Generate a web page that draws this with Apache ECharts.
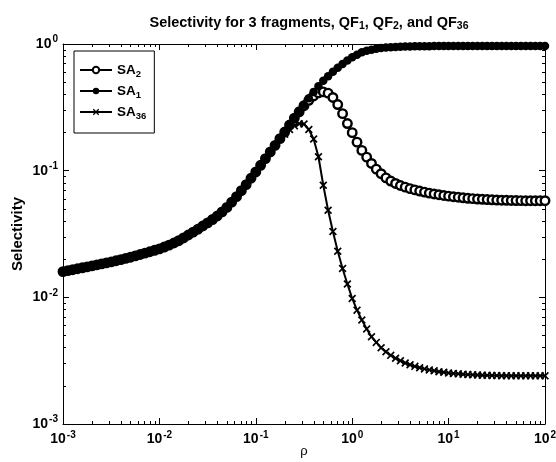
<!DOCTYPE html>
<html><head><meta charset="utf-8">
<script src="https://cdn.jsdelivr.net/npm/echarts@6/dist/echarts.min.js"></script>
<style>html,body{margin:0;padding:0;background:#fff}#c{width:556px;height:462px}</style>
</head><body><div id="c"></div>
<script>
// ---- data ----
const rho = [
0.001,0.001122,0.001259,0.001413,0.001585,0.001778,0.001995,0.002239,0.002512,0.002818,
0.003162,0.003548,0.003981,0.004467,0.005012,0.005623,0.00631,0.007079,0.007943,0.008913,
0.01,0.01122,0.01259,0.01413,0.01585,0.01778,0.01995,0.02239,0.02512,0.02818,
0.03162,0.03548,0.03981,0.04467,0.05012,0.05623,0.0631,0.07079,0.07943,0.08913,
0.1,0.1122,0.1259,0.1413,0.1585,0.1778,0.1995,0.2239,0.2512,0.2818,
0.3162,0.3548,0.3981,0.4467,0.5012,0.5623,0.631,0.7079,0.7943,0.8913,
1,1.122,1.259,1.413,1.585,1.778,1.995,2.239,2.512,2.818,
3.162,3.548,3.981,4.467,5.012,5.623,6.31,7.079,7.943,8.913,
10,11.22,12.59,14.13,15.85,17.78,19.95,22.39,25.12,28.18,
31.62,35.48,39.81,44.67,50.12,56.23,63.1,70.79,79.43,89.13,
100];
const sa1 = [
0.01596,0.01624,0.01652,0.01681,0.0171,0.0174,0.0177,0.01803,0.01837,0.01871,
0.01905,0.01945,0.01986,0.0203,0.02075,0.02126,0.02178,0.02234,0.02291,0.02352,
0.02415,0.02495,0.02582,0.02685,0.02799,0.02944,0.03105,0.03273,0.03451,0.03656,
0.03873,0.04111,0.04385,0.04732,0.05129,0.05649,0.06237,0.0695,0.07762,0.0871,
0.09772,0.1102,0.1245,0.1405,0.1585,0.1789,0.2018,0.2291,0.26,0.2934,
0.3311,0.3724,0.4188,0.4645,0.5129,0.5572,0.6026,0.6486,0.695,0.7413,
0.7852,0.8241,0.861,0.8831,0.9016,0.9162,0.929,0.9376,0.9441,0.9484,
0.9528,0.955,0.9572,0.9583,0.9594,0.9605,0.9616,0.9623,0.9627,0.9634,
0.9638,0.964,0.964,0.964,0.964,0.964,0.964,0.964,0.964,0.964,
0.964,0.964,0.964,0.964,0.964,0.964,0.964,0.964,0.964,0.964,
0.964];
const sa2 = [
0.01596,0.01624,0.01652,0.01681,0.0171,0.0174,0.0177,0.01803,0.01837,0.01871,
0.01905,0.01945,0.01986,0.0203,0.02075,0.02126,0.02178,0.02234,0.02291,0.02352,
0.02415,0.02495,0.02582,0.02685,0.02799,0.02944,0.03105,0.03273,0.03451,0.03656,
0.03873,0.04111,0.04385,0.04732,0.05129,0.05649,0.06237,0.0695,0.07762,0.0871,
0.09772,0.1102,0.1245,0.1405,0.1585,0.1789,0.2018,0.2291,0.26,0.2917,
0.3258,0.3589,0.389,0.4111,0.4188,0.4093,0.3784,0.3327,0.2818,0.2355,
0.1995,0.1679,0.1445,0.1279,0.114,0.1028,0.09462,0.0877,0.08279,0.07925,
0.07638,0.07413,0.07211,0.07047,0.06902,0.06776,0.06653,0.06546,0.06457,0.06368,
0.06295,0.06223,0.06166,0.06109,0.06053,0.06012,0.0597,0.05943,0.05916,0.05888,
0.05861,0.05848,0.05834,0.05821,0.05808,0.05801,0.05795,0.05795,0.0579,0.0579,
0.0579];
const sa36 = [
0.01596,0.01624,0.01652,0.01681,0.0171,0.0174,0.0177,0.01803,0.01837,0.01871,
0.01905,0.01945,0.01986,0.0203,0.02075,0.02126,0.02178,0.02234,0.02291,0.02352,
0.02415,0.02495,0.02582,0.02685,0.02799,0.02944,0.03105,0.03273,0.03451,0.03656,
0.03873,0.04111,0.04385,0.04732,0.05129,0.05649,0.06237,0.0695,0.07762,0.0871,
0.09772,0.1102,0.1245,0.1405,0.1585,0.177,0.1941,0.2113,0.2259,0.2344,
0.2333,0.2113,0.1778,0.1288,0.07674,0.04875,0.03311,0.02312,0.0169,0.01276,
0.009795,0.007925,0.006622,0.005636,0.004887,0.004406,0.003999,0.003715,0.003483,0.003304,
0.003155,0.003034,0.002938,0.002851,0.00278,0.002723,0.002673,0.00263,0.002588,0.002559,
0.002529,0.002506,0.002489,0.002472,0.002455,0.002443,0.002438,0.002427,0.002421,0.002415,
0.00241,0.002404,0.002404,0.0024,0.0024,0.0024,0.0024,0.0024,0.0024,0.0024,
0.0024];
const seriesNames = ['SA2', 'SA1', 'SA36'];
const xDecades = [0.001, 0.01, 0.1, 1, 10, 100];
const yDecades = [0.001, 0.01, 0.1, 1];
const minorMult = [2, 3, 4, 5, 6, 7, 8, 9];
const titleText = 'Selectivity for 3 fragments, QF';

// ---- build ----
const FONT = '"Liberation Sans", Arial, Helvetica, sans-serif';
function minors(dec) {
  const out = [];
  dec.slice(0, -1).forEach(d => minorMult.forEach(m => out.push(d * m)));
  return out;
}
const xMinor = minors(xDecades), yMinor = minors(yDecades);
function pow10Label(v) {
  const e = Math.round(Math.log10(v));
  return '{b|10}{s|' + e + '}';
}
const labelRich = {
  b: { fontSize: 14, fontWeight: 'bold', color: '#000', fontFamily: FONT },
  s: { fontSize: 10, fontWeight: 'bold', color: '#000', fontFamily: FONT, padding: [0, 0, 9, 1] }
};
function axisDef(kind, gridIndex, position, ticks, len, showLabel, showLine, labels, min, max) {
  return {
    type: 'log', logBase: 10, gridIndex, position, min, max,
    axisLine: { show: showLine, lineStyle: { color: '#000', width: 1 } },
    axisTick: { show: true, inside: true, length: len, customValues: ticks, lineStyle: { color: '#000', width: 1 } },
    axisLabel: { show: showLabel, customValues: labels, formatter: pow10Label, rich: labelRich, margin: kind === 'x' ? 6 : 5 },
    splitLine: { show: false }, minorTick: { show: false }, minorSplitLine: { show: false }
  };
}
const gridRect = { left: 63, right: 11, top: 44, bottom: 38, outerBoundsMode: 'none', containLabel: false };
const xAxes = [
  Object.assign(axisDef('x', 0, 'bottom', xDecades, 6, true, true, xDecades, 0.001, 100), {
    name: 'ρ', nameLocation: 'middle', nameGap: 21, nameMoveOverlap: false,
    nameTextStyle: { fontSize: 13, fontFamily: FONT, color: '#000' }
  }),
  axisDef('x', 0, 'top', xDecades, 6, false, true, xDecades, 0.001, 100),
  axisDef('x', 1, 'bottom', xMinor, 3, false, false, xDecades, 0.001, 100),
  axisDef('x', 1, 'top', xMinor, 3, false, false, xDecades, 0.001, 100)
];
const yAxes = [
  Object.assign(axisDef('y', 0, 'left', yDecades, 6, true, true, yDecades, 0.001, 1), {
    name: 'Selectivity', nameLocation: 'middle', nameGap: 38, nameMoveOverlap: false,
    nameTextStyle: { fontSize: 15, fontWeight: 'bold', fontFamily: FONT, color: '#000' }
  }),
  axisDef('y', 0, 'right', yDecades, 6, false, true, yDecades, 0.001, 1),
  axisDef('y', 1, 'left', yMinor, 3, false, false, yDecades, 0.001, 1),
  axisDef('y', 1, 'right', yMinor, 3, false, false, yDecades, 0.001, 1)
];
const xMark = 'path://M0,1.5L1.5,0L5,3.5L8.5,0L10,1.5L6.5,5L10,8.5L8.5,10L5,6.5L1.5,10L0,8.5L3.5,5Z';
const values = [sa2, sa1, sa36];
const styles = [
  { symbol: 'circle', symbolSize: 8.5, itemStyle: { color: '#fff', borderColor: '#000', borderWidth: 2.4 } },
  { symbol: 'circle', symbolSize: 8.5, itemStyle: { color: '#000', borderColor: '#000', borderWidth: 0 } },
  { symbol: xMark, symbolSize: 8, itemStyle: { color: '#000', borderWidth: 0 } }
];
const series = seriesNames.map((n, i) => Object.assign({
  name: n, type: 'line', xAxisIndex: 0, yAxisIndex: 0,
  data: rho.map((x, j) => [x, values[i][j]]),
  showAllSymbol: true, lineStyle: { color: '#000', width: 2 },
  emphasis: { disabled: true }, silent: true, animation: false
}, styles[i]));

const chart = echarts.init(document.getElementById('c'), null, { renderer: 'canvas' });
chart.setOption({
  animation: false,
  backgroundColor: '#fff',
  textStyle: { fontFamily: FONT },
  title: {
    text: '{t|' + titleText + '}{d|1}{t|, QF}{d|2}{t|, and QF}{d|36}',
    left: 304, top: 8, textAlign: 'center',
    textStyle: {
      fontFamily: FONT,
      rich: {
        t: { fontSize: 14.5, fontWeight: 'bold', fontFamily: FONT, color: '#000' },
        d: { fontSize: 10.5, fontWeight: 'bold', fontFamily: FONT, color: '#000', padding: [8, 0, 0, 0] }
      }
    }
  },
  legend: {
    orient: 'vertical', left: 74, top: 51, padding: [12, 8, 12, 5], itemGap: 5,
    itemWidth: 32, itemHeight: 8, selectedMode: false,
    borderColor: '#000', borderWidth: 1, backgroundColor: '#fff', borderRadius: 0,
    data: seriesNames,
    formatter: n => '{b|SA}{d|' + n.slice(2) + '}',
    textStyle: {
      rich: {
        b: { fontSize: 13.5, fontWeight: 'bold', fontFamily: FONT, color: '#000' },
        d: { fontSize: 9.5, fontWeight: 'bold', fontFamily: FONT, color: '#000', padding: [8, 0, 0, 0] }
      }
    }
  },
  grid: [Object.assign({}, gridRect), Object.assign({}, gridRect)],
  xAxis: xAxes,
  yAxis: yAxes,
  series
});
</script></body></html>
